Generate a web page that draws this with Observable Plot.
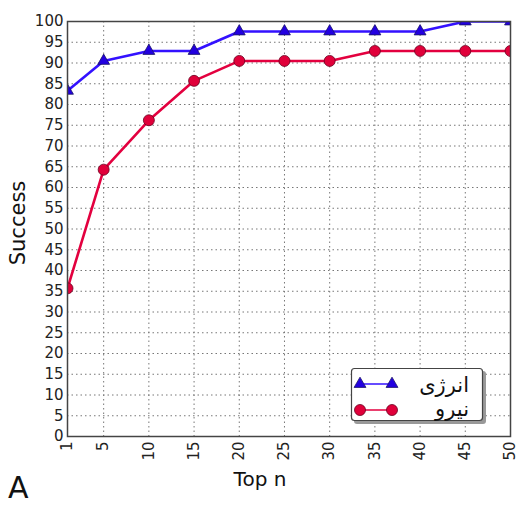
<!DOCTYPE html>
<html>
<head>
<meta charset="utf-8">
<script src="https://cdn.jsdelivr.net/npm/d3@7"></script>
<script src="https://cdn.jsdelivr.net/npm/@observablehq/plot@0.6"></script>
<style>
  html, body { margin: 0; padding: 0; background: #fff; }
  #chart { width: 518px; height: 506px; }
</style>
</head>
<body>
<div id="chart"></div>
<script>
// Data
const topN = [1, 5, 10, 15, 20, 25, 30, 35, 40, 45, 50];
const energy = [83.3, 90.5, 92.9, 92.9, 97.6, 97.6, 97.6, 97.6, 97.6, 100, 100];   // انرژی
const neuro  = [35.7, 64.3, 76.2, 85.7, 90.5, 90.5, 90.5, 92.9, 92.9, 92.9, 92.9]; // نیرو
const seriesNames = ["انرژی", "نیرو"];
const yTicks = d3.range(0, 101, 5);
const xLabel = "Top n";
const yLabel = "Success";
const panelLetter = "A";

const blue = "#3311ff", blueFill = "#2200e0", blueEdge = "#1a1466";
const red = "#e3003f", redFill = "#e0003a", redEdge = "#6a0020";
const font = "DejaVu Sans, sans-serif";

const energyData = topN.map((n, i) => ({n, v: energy[i]}));
const neuroData = topN.map((n, i) => ({n, v: neuro[i]}));

const W = 518, H = 506, ML = 67, MR = 8, MT = 21, MB = 70;

const chart = Plot.plot({
  width: W, height: H,
  marginLeft: ML, marginRight: MR, marginTop: MT, marginBottom: MB,
  style: {fontFamily: font, background: "#fff", color: "#222"},
  x: {type: "linear", domain: [1, 50], label: null},
  y: {domain: [0, 100], label: null},
  marks: [
    Plot.gridX(topN, {stroke: "#777", strokeOpacity: 1, strokeDasharray: "1.5,3"}),
    Plot.gridY(yTicks, {stroke: "#777", strokeOpacity: 1, strokeDasharray: "1.5,3"}),
    Plot.axisX(topN, {tickRotate: -90, tickSize: 0, tickPadding: 5, fontSize: 15, fill: "#222"}),
    Plot.axisY(yTicks, {tickSize: 0, tickPadding: 4, fontSize: 15, fill: "#222"}),
    Plot.line(neuroData, {x: "n", y: "v", stroke: red, strokeWidth: 2.6, clip: true}),
    Plot.line(energyData, {x: "n", y: "v", stroke: blue, strokeWidth: 2.6, clip: true}),
    Plot.dot(neuroData, {x: "n", y: "v", r: 5.5, fill: redFill, stroke: redEdge, strokeWidth: 0.8, clip: true}),
    Plot.dot(energyData, {x: "n", y: "v", symbol: "triangle", r: 4.4, fill: blueFill, stroke: blueEdge, strokeWidth: 0.8, clip: true}),
    Plot.frame({stroke: "#444", strokeWidth: 1.5})
  ]
});
document.getElementById("chart").appendChild(chart);

const svg = d3.select(chart);

// Axis titles and panel letter
svg.append("text").attr("x", 260).attr("y", 486).attr("text-anchor", "middle")
  .attr("font-family", font).attr("font-size", 20).attr("fill", "#111").text(xLabel);
svg.append("text").attr("transform", "translate(25,223) rotate(-90)").attr("text-anchor", "middle")
  .attr("font-family", font).attr("font-size", 21).attr("fill", "#111").text(yLabel);
svg.append("text").attr("x", 8).attr("y", 498).attr("text-anchor", "start")
  .attr("font-family", font).attr("font-size", 30).attr("fill", "#111").text(panelLetter);

// Legend
const lg = svg.append("g");
lg.append("rect").attr("x", 354).attr("y", 371).attr("width", 132).attr("height", 53).attr("rx", 3)
  .attr("fill", "#999");
lg.append("rect").attr("x", 351.5).attr("y", 368.5).attr("width", 131).attr("height", 52).attr("rx", 3)
  .attr("fill", "#fff").attr("stroke", "#444").attr("stroke-width", 1.2);
const rows = [
  {name: seriesNames[0], y: 384, line: blue, fill: blueFill, edge: blueEdge, sym: d3.symbolTriangle, size: Math.PI * 4.4 * 4.4, ty: 392},
  {name: seriesNames[1], y: 410, line: red, fill: redFill, edge: redEdge, sym: d3.symbolCircle, size: Math.PI * 5.5 * 5.5, ty: 416}
];
for (const r of rows) {
  lg.append("line").attr("x1", 360).attr("x2", 392).attr("y1", r.y).attr("y2", r.y)
    .attr("stroke", r.line).attr("stroke-width", 1.5);
  for (const x of [360, 392]) {
    lg.append("path").attr("d", d3.symbol(r.sym, r.size)()).attr("transform", `translate(${x},${r.y})`)
      .attr("fill", r.fill).attr("stroke", r.edge).attr("stroke-width", 0.8);
  }
  lg.append("text").attr("x", 469).attr("y", r.ty).attr("text-anchor", "end")
    .attr("font-family", font).attr("font-size", 21).attr("fill", "#111").text(r.name);
}
</script>
</body>
</html>
